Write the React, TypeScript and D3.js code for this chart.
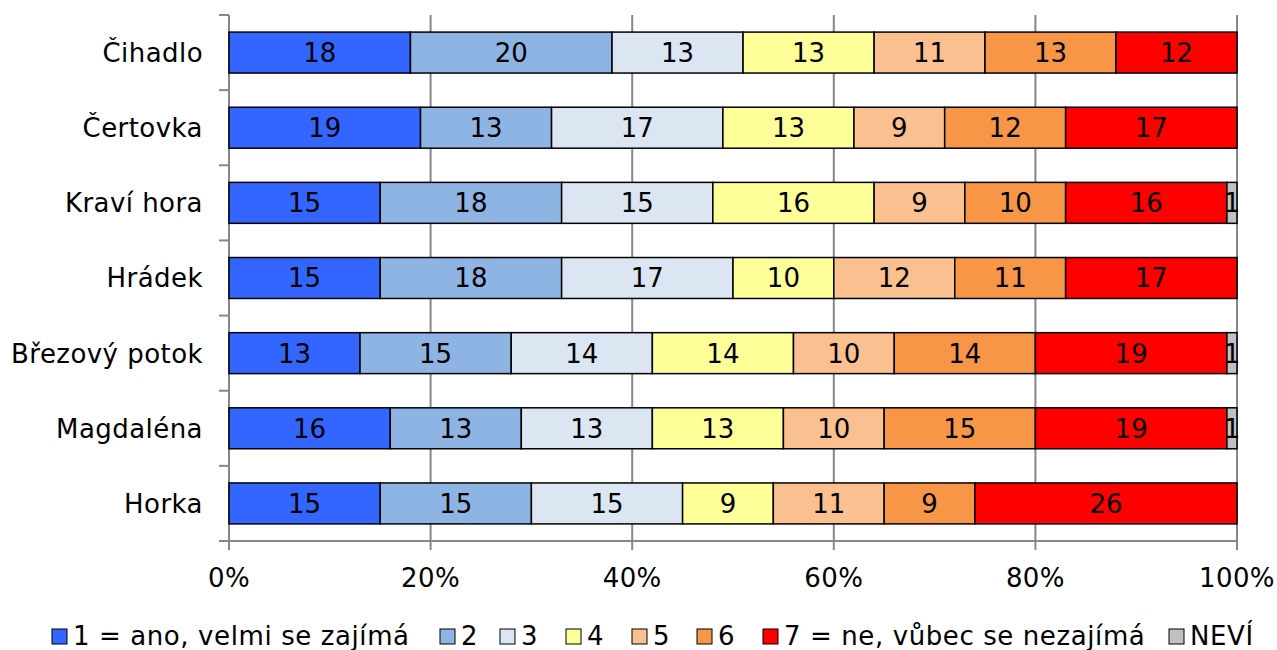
import React from "react";
import * as d3 from "d3";

const categories = ["Čihadlo", "Čertovka", "Kraví hora", "Hrádek", "Březový potok", "Magdaléna", "Horka"];
const seriesNames = ["1 = ano, velmi se zajímá", "2", "3", "4", "5", "6", "7 = ne, vůbec se nezajímá", "NEVÍ"];
const seriesColors = ["#3366FF", "#8EB4E3", "#DCE6F2", "#FFFF99", "#FAC090", "#F79646", "#FF0000", "#C0C0C0"];
const s1 = [18, 19, 15, 15, 13, 16, 15];
const s2 = [20, 13, 18, 18, 15, 13, 15];
const s3 = [13, 17, 15, 17, 14, 13, 15];
const s4 = [13, 13, 16, 10, 14, 13, 9];
const s5 = [11, 9, 9, 12, 10, 10, 11];
const s6 = [13, 12, 10, 11, 14, 15, 9];
const s7 = [12, 17, 16, 17, 19, 19, 26];
const sNevi = [0, 0, 1, 0, 1, 1, 0];
const xTicks = [0, 20, 40, 60, 80, 100];

const FONT = "'DejaVu Sans', Verdana, sans-serif";
const W = 1277, H = 650;
const left = 229, right = 1237, top = 15, bottom = 541;
const legendX = [52, 440, 500, 566, 632, 697, 763, 1169];

export default function App() {
  const series = [s1, s2, s3, s4, s5, s6, s7, sNevi];
  const rows = categories.map((c, i) => {
    const o: any = { cat: c };
    series.forEach((s, k) => (o["k" + k] = s[i]));
    return o;
  });
  const keys = series.map((_, k) => "k" + k);
  const stacked = d3.stack().keys(keys)(rows);
  const x = d3.scaleLinear().domain([0, 100]).range([left, right]);
  const y = d3.scaleBand().domain(categories).range([top, bottom]).paddingInner(0.455).paddingOuter(0.2275);
  const yb = d3.scaleBand().domain(categories).range([top, bottom]);
  const fs = 26;
  const sq = 15;

  return (
    <svg width={W} height={H} style={{ position: "absolute", left: 0, top: 0 }} fontFamily={FONT}>
      <rect width={W} height={H} fill="#fff" />
      {xTicks.map((t) => (
        <g key={t}>
          {t > 0 && <line x1={x(t)} x2={x(t)} y1={top} y2={bottom} stroke="#878787" strokeWidth={2} />}
          <line x1={x(t)} x2={x(t)} y1={bottom} y2={bottom + 9} stroke="#878787" strokeWidth={2} />
          <text x={x(t)} y={587} textAnchor="middle" fontSize={fs} letterSpacing={0.4} fill="#000">{t}%</text>
        </g>
      ))}
      <line x1={left} x2={right} y1={bottom} y2={bottom} stroke="#878787" strokeWidth={2} />
      <line x1={left} x2={left} y1={top} y2={bottom + 9} stroke="#878787" strokeWidth={2} />
      {[...categories.map((c) => yb(c)!), bottom].map((v, i) => (
        <line key={i} x1={left - 10} x2={left} y1={v} y2={v} stroke="#878787" strokeWidth={2} />
      ))}
      {categories.map((c) => (
        <text key={c} x={203} y={y(c)! + y.bandwidth() / 2} dy="0.36em" textAnchor="end" fontSize={fs} letterSpacing={0.45} fill="#000">{c}</text>
      ))}
      {stacked.map((layer, k) => (
        <g key={k}>
          {layer.map((d, i) => {
            const w = x(d[1]) - x(d[0]);
            if (w <= 0) return null;
            const yy = y(categories[i])!;
            return (
              <g key={i}>
                <rect x={x(d[0])} y={yy} width={w} height={y.bandwidth()} fill={seriesColors[k]} stroke="#000" strokeWidth={1.5} />
                <text x={(x(d[0]) + x(d[1])) / 2} y={yy + y.bandwidth() / 2} dy="0.36em" textAnchor="middle" fontSize={fs} fill="#000">
                  {d[1] - d[0]}
                </text>
              </g>
            );
          })}
        </g>
      ))}
      {seriesNames.map((n, i) => (
        <g key={i}>
          <rect x={legendX[i]} y={629} width={sq} height={sq} fill={seriesColors[i]} stroke="#000" strokeWidth={1} />
          <text x={legendX[i] + sq + 6} y={645} fontSize={fs} letterSpacing={0.6} fill="#000">{n}</text>
        </g>
      ))}
    </svg>
  );
}
